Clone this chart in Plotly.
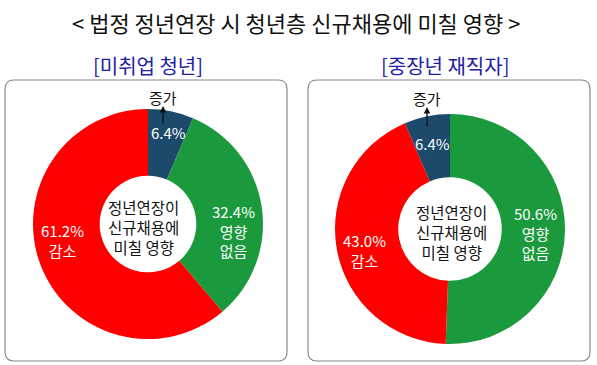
import plotly.graph_objects as go

title_text = "< 법정 정년연장 시 청년층 신규채용에 미칠 영향 >"
panel_titles = ["[미취업 청년]", "[중장년 재직자]"]
center_text = "정년연장이<br>신규채용에<br>미칠 영향"

# left panel (clockwise from 12 o'clock)
left_labels = ["증가", "영향 없음", "감소"]
left_values = [6.4, 32.4, 61.2]
left_colors = ["#1B4A6B", "#1A9A3C", "#FF0000"]

# right panel (clockwise from 12 o'clock)
right_labels = ["영향 없음", "감소", "증가"]
right_values = [50.6, 43.0, 6.4]
right_colors = ["#1A9A3C", "#FF0000", "#1B4A6B"]

W, H = 597, 365
FONT = "Noto Sans CJK KR"


def px(x):
    return x / W


def py(y):
    return 1 - y / H


fig = go.Figure()

fig.add_trace(go.Pie(
    labels=left_labels, values=left_values, sort=False, direction="clockwise",
    rotation=0, hole=0.42, marker=dict(colors=left_colors, line=dict(width=0)),
    textinfo="none", hoverinfo="label+percent", showlegend=False,
    domain=dict(x=[px(33), px(263)], y=[py(339), py(109)]),
))
fig.add_trace(go.Pie(
    labels=right_labels, values=right_values, sort=False, direction="clockwise",
    rotation=0, hole=0.45, marker=dict(colors=right_colors, line=dict(width=0)),
    textinfo="none", hoverinfo="label+percent", showlegend=False,
    domain=dict(x=[px(335), px(565)], y=[py(344), py(114)]),
))


def rounded_rect(x0, y0, x1, y1, r):
    def P(x, y):
        return f"{px(x):.5f},{py(y):.5f}"
    return (
        f"M {P(x0 + r, y0)} L {P(x1 - r, y0)} Q {P(x1, y0)} {P(x1, y0 + r)} "
        f"L {P(x1, y1 - r)} Q {P(x1, y1)} {P(x1 - r, y1)} "
        f"L {P(x0 + r, y1)} Q {P(x0, y1)} {P(x0, y1 - r)} "
        f"L {P(x0, y0 + r)} Q {P(x0, y0)} {P(x0 + r, y0)} Z"
    )


shapes = []
for (x0, x1) in [(5, 287), (308, 590)]:
    shapes.append(dict(type="path", xref="paper", yref="paper",
                       path=rounded_rect(x0, 80, x1, 361, 9),
                       line=dict(color="#8A8A8A", width=1.2), layer="below"))

annotations = []


def lab(text, x, y, color="white", size=15):
    annotations.append(dict(x=px(x), y=py(y), xref="paper", yref="paper",
                            xanchor="center", yanchor="middle",
                            text=text, showarrow=False,
                            font=dict(family=FONT, size=size, color=color)))


lab(title_text, 296, 22, color="#111111", size=22)
for t, cx in zip(panel_titles, [148, 445]):
    lab(t, cx, 65, color="#2020A8", size=20)
for cx, cy in [(143, 227), (451, 232)]:
    lab(center_text, cx, cy, color="#111111", size=15.5)

# left labels
lab(f"{left_values[0]}%", 168, 133)
lab(f"{left_values[1]}%<br>영향<br>없음", 233, 231)
lab(f"{left_values[2]}%<br>감소", 62, 241)
# right labels
lab(f"{right_values[2]}%", 432, 143)
lab(f"{right_values[0]}%<br>영향<br>없음", 535, 233)
lab(f"{right_values[1]}%<br>감소", 365, 251)

# "증가" callouts with arrows
for name, (tx, ty, ay0) in zip([left_labels[0], right_labels[2]],
                               [(163, 97, 125), (427, 98, 128)]):
    lab(name, tx, ty, color="#111111", size=15)
    head_y = ty + 9
    annotations.append(dict(x=px(tx), y=py(head_y), xref="paper", yref="paper",
                            ax=0, ay=ay0 - head_y, axref="pixel", ayref="pixel",
                            text="", showarrow=True, arrowhead=2, arrowsize=1,
                            arrowwidth=1.3, arrowcolor="#111111"))

fig.update_layout(
    width=W, height=H, margin=dict(l=0, r=0, t=0, b=0),
    paper_bgcolor="white", plot_bgcolor="white",
    shapes=shapes, annotations=annotations,
    font=dict(family=FONT),
)

fig.write_html("out.html", config={"displayModeBar": False},
               post_script="document.body.style.margin='0';")
